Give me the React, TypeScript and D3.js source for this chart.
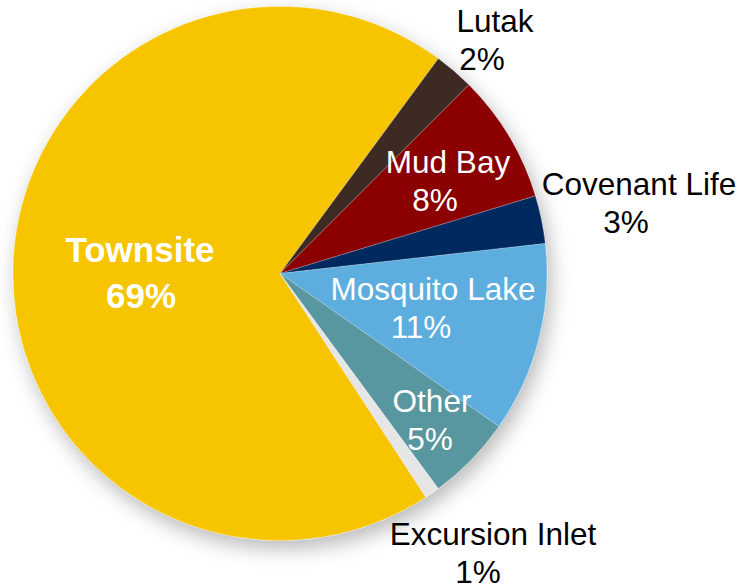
import { useEffect, useRef } from 'react';
import * as d3 from 'd3';

// slice values in percent (clockwise from Townsite)
const categories = ['Townsite', 'Lutak', 'Mud Bay', 'Covenant Life', 'Mosquito Lake', 'Other', 'Excursion Inlet'];
const shares = [69.3, 2.4, 7.8, 2.9, 11.5, 5.2, 0.9];
const pctLabels = ['69%', '2%', '8%', '3%', '11%', '5%', '1%'];

const colors: Record<string, string> = {
  'Townsite': '#F7C400',
  'Lutak': '#3C2B22',
  'Mud Bay': '#8B0000',
  'Covenant Life': '#002B5F',
  'Mosquito Lake': '#5DAEDF',
  'Other': '#5996A0',
  'Excursion Inlet': '#E6E6E6',
};

// where each label sits: [name x, pct x, first baseline], white labels are inside the pie
const labelPos: Record<string, [number, number, number]> = {
  'Townsite': [140, 141, 262],
  'Lutak': [495, 482, 32],
  'Mud Bay': [448, 435, 173],
  'Covenant Life': [639, 626, 195],
  'Mosquito Lake': [433, 421, 300],
  'Other': [432, 430, 412],
  'Excursion Inlet': [493, 478, 545],
};
const outside = ['Lutak', 'Covenant Life', 'Excursion Inlet'];

interface Slice {
  name: string;
  value: number;
  pct: string;
}

const data: Slice[] = categories.map((name, i) => ({ name, value: shares[i], pct: pctLabels[i] }));

const App = () => {
  const chartRef = useRef<SVGSVGElement | null>(null);

  useEffect(() => {
    if (!chartRef.current) return;
    document.body.style.margin = '0';

    const svgRoot = d3.select(chartRef.current);
    svgRoot.selectAll('*').remove();

    const cx = 280;
    const cy = 273.5;
    const radius = 267;

    const defs = svgRoot.append('defs');
    const filter = defs.append('filter')
      .attr('id', 'shadow')
      .attr('x', '-20%').attr('y', '-20%')
      .attr('width', '150%').attr('height', '150%');
    filter.append('feDropShadow')
      .attr('dx', 4).attr('dy', 8)
      .attr('stdDeviation', 10)
      .attr('flood-color', '#000')
      .attr('flood-opacity', 0.28);

    const g = svgRoot.append('g')
      .attr('transform', `translate(${cx}, ${cy})`);

    // Townsite starts at the bottom-right, the rest follow clockwise
    const start = (146.9 * Math.PI) / 180;
    const pie = d3.pie<Slice>()
      .sort(null)
      .value(d => d.value)
      .startAngle(start)
      .endAngle(start + 2 * Math.PI);

    const arc = d3.arc<d3.PieArcDatum<Slice>>()
      .innerRadius(0)
      .outerRadius(radius);

    const slices = g.append('g').attr('filter', 'url(#shadow)');
    slices.selectAll('path')
      .data(pie(data))
      .enter()
      .append('path')
      .attr('d', arc)
      .attr('fill', d => colors[d.data.name])
      .attr('stroke', 'rgba(255,255,255,0.35)')
      .attr('stroke-width', 0.6);

    // labels
    const labels = svgRoot.append('g')
      .style('font-family', '"Liberation Sans", Arial, sans-serif');

    data.forEach(d => {
      const [nx, px, y] = labelPos[d.name];
      const bold = d.name === 'Townsite';
      const size = bold ? 35 : 31.5;
      const gap = bold ? 45.5 : 38;
      const fill = outside.includes(d.name) ? '#000' : '#fff';
      labels.append('text')
        .attr('x', nx)
        .attr('y', y)
        .attr('text-anchor', 'middle')
        .style('font-size', `${size}px`)
        .style('font-weight', bold ? 'bold' : 'normal')
        .style('fill', fill)
        .text(d.name);
      labels.append('text')
        .attr('x', px)
        .attr('y', y + gap)
        .attr('text-anchor', 'middle')
        .style('font-size', `${size}px`)
        .style('font-weight', bold ? 'bold' : 'normal')
        .style('fill', fill)
        .text(d.pct);
    });
  }, []);

  return (
    <div style={{ width: 741, height: 588 }}>
      <svg ref={chartRef} width={741} height={588}></svg>
    </div>
  );
};

export default App;
